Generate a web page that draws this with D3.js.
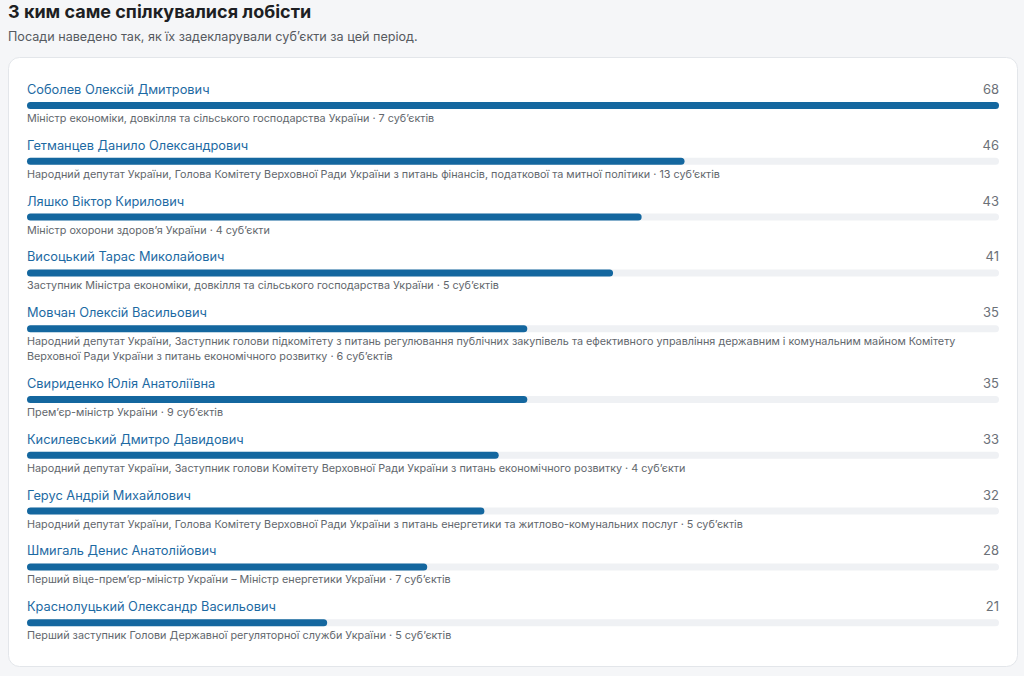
<!DOCTYPE html>
<html>
<head>
<meta charset="utf-8">
<script src="https://cdn.jsdelivr.net/npm/d3@7"></script>
<style>
  body { margin: 0; background: #f5f6f8; font-family: Inter, "Noto Sans", sans-serif; }
  svg { display: block; }
</style>
</head>
<body>
<div id="chart"></div>
<script>
// chart data
const names = [
  "Соболев Олексій Дмитрович",
  "Гетманцев Данило Олександрович",
  "Ляшко Віктор Кирилович",
  "Висоцький Тарас Миколайович",
  "Мовчан Олексій Васильович",
  "Свириденко Юлія Анатоліївна",
  "Кисилевський Дмитро Давидович",
  "Герус Андрій Михайлович",
  "Шмигаль Денис Анатолійович",
  "Краснолуцький Олександр Васильович"
];
const meetings = [68, 46, 43, 41, 35, 35, 33, 32, 28, 21];
const positions = [
  "Міністр економіки, довкілля та сільського господарства України",
  "Народний депутат України, Голова Комітету Верховної Ради України з питань фінансів, податкової та митної політики",
  "Міністр охорони здоров’я України",
  "Заступник Міністра економіки, довкілля та сільського господарства України",
  "Народний депутат України, Заступник голови підкомітету з питань регулювання публічних закупівель та ефективного управління державним і комунальним майном Комітету Верховної Ради України з питань економічного розвитку",
  "Прем’єр-міністр України",
  "Народний депутат України, Заступник голови Комітету Верховної Ради України з питань економічного розвитку",
  "Народний депутат України, Голова Комітету Верховної Ради України з питань енергетики та житлово-комунальних послуг",
  "Перший віце-прем’єр-міністр України – Міністр енергетики України",
  "Перший заступник Голови Державної регуляторної служби України"
];
const subjects = ["7 суб’єктів", "13 суб’єктів", "4 суб’єкти", "5 суб’єктів", "6 суб’єктів",
  "9 суб’єктів", "4 суб’єкти", "5 суб’єктів", "7 суб’єктів", "5 суб’єктів"];

const title = "З ким саме спілкувалися лобісти";
const subtitle = "Посади наведено так, як їх задекларували суб’єкти за цей період.";

(function draw() {
    const width = 1024, height = 676,
        margin = ({ top: 80, right: 25, left: 27 });
    const rowH = 56, lineH = 15;

    const svg = d3.select("#chart")
        .append("svg")
        .attr("width", width)
        .attr("height", height);

    // heading
    svg.append("text")
        .attr("x", 8).attr("y", 18)
        .attr("font-size", 18).attr("font-weight", 700)
        .attr("fill", "#1d1f23")
        .text(title);
    svg.append("text")
        .attr("x", 8).attr("y", 41)
        .attr("font-size", 12.6)
        .attr("fill", "#555a60")
        .text(subtitle);

    // card
    svg.append("rect")
        .attr("x", 8.5).attr("y", 57.5)
        .attr("width", 1009).attr("height", 609)
        .attr("rx", 11)
        .attr("fill", "#fff")
        .attr("stroke", "#e3e6ea");

    const x = d3.scaleLinear()
        .domain([0, d3.max(meetings)])
        .range([margin.left, width - margin.right]);

    const rows = names.map((n, i) => ({ name: n, value: meetings[i], desc: positions[i] + " · " + subjects[i] }));

    // measure wrapped descriptions so rows can grow
    const maxW = x.range()[1] - x.range()[0];
    const measure = svg.append("text").attr("font-size", 10.8).attr("visibility", "hidden");
    rows.forEach(r => {
        const words = r.desc.split(" ");
        let lines = [], cur = "";
        words.forEach(w => {
            const test = cur ? cur + " " + w : w;
            measure.text(test);
            if (measure.node().getComputedTextLength() > maxW - 10 && cur) {
                lines.push(cur); cur = w;
            } else cur = test;
        });
        lines.push(cur);
        r.lines = lines;
    });
    measure.remove();

    let yPos = margin.top;
    rows.forEach(r => { r.y = yPos; yPos += rowH + (r.lines.length - 1) * lineH - 0.2; });

    const g = svg.append("g")
        .selectAll("g")
        .data(rows)
        .join("g")
        .attr("transform", d => `translate(0,${d.y})`);

    g.append("text")
        .attr("x", margin.left).attr("y", 14)
        .attr("font-size", 12.8)
        .attr("fill", "#1d6aa3")
        .text(d => d.name);

    g.append("text")
        .attr("x", x.range()[1]).attr("y", 14)
        .attr("text-anchor", "end")
        .attr("font-size", 13)
        .attr("fill", "#6b7178")
        .text(d => d.value);

    // track
    g.append("rect")
        .attr("x", x(0)).attr("y", 22)
        .attr("width", x(d3.max(meetings)) - x(0))
        .attr("height", 7).attr("rx", 3.5)
        .attr("fill", "#eff1f4");

    // bar
    g.append("rect")
        .attr("x", x(0)).attr("y", 22)
        .attr("width", d => x(d.value) - x(0))
        .attr("height", 7).attr("rx", 3.5)
        .attr("fill", "#14679f");

    g.append("text")
        .attr("font-size", 10.8)
        .attr("fill", "#62676d")
        .selectAll("tspan")
        .data(d => d.lines)
        .join("tspan")
        .attr("x", margin.left)
        .attr("y", (d, i) => 42 + i * lineH)
        .text(d => d);
})();
</script>
</body>
</html>
